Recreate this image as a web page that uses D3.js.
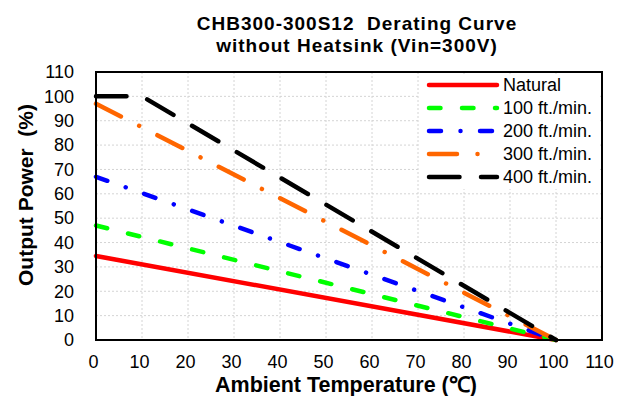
<!DOCTYPE html>
<html>
<head>
<meta charset="utf-8">
<script src="https://cdn.jsdelivr.net/npm/d3@7"></script>
<style>
  body { margin: 0; background: #fff; }
  text { font-family: "Liberation Sans", Arial, sans-serif; fill: #000; white-space: pre; }
  .title { font-weight: bold; font-size: 19px; letter-spacing: 1px; }
  .axis-title { font-weight: bold; font-size: 21px; }
  .legend-label { font-size: 18px; }
</style>
</head>
<body>
<svg id="chart" width="624" height="396"></svg>
<script>
// Data
var titleLines = ["CHB300-300S12  Derating Curve", "without Heatsink (Vin=300V)"];
var xTicks = [0, 10, 20, 30, 40, 50, 60, 70, 80, 90, 100, 110];
var yTicks = [0, 10, 20, 30, 40, 50, 60, 70, 80, 90, 100, 110];
var seriesNames = ["Natural", "100 ft./min.", "200 ft./min.", "300 ft./min.", "400 ft./min."];
var naturalPts = [[0, 34.5], [100, 0]];
var lfm100Pts = [[0, 47], [100, 0]];
var lfm200Pts = [[0, 67], [100, 0]];
var lfm300Pts = [[0, 97], [100, 0]];
var lfm400Pts = [[0, 100], [10, 100], [100, 0]];
var seriesPts = [naturalPts, lfm100Pts, lfm200Pts, lfm300Pts, lfm400Pts];

// Styles
var colors = ["#ff0000", "#00ff00", "#0000ff", "#ff6600", "#000000"];
var dashes = [null, "11.5,21.5", "12,19.5,0.01,19.5", "28,20.5,0.01,20.5", "30.5,21.5"];

var margin = {top: 72, right: 22, bottom: 56, left: 96};
var svg = d3.select("#chart");
var W = 624, H = 396;
var width = W - margin.left - margin.right;
var height = H - margin.top - margin.bottom;

var x = d3.scaleLinear().domain([0, 110]).range([margin.left, margin.left + width]);
var y = d3.scaleLinear().domain([0, 110]).range([margin.top + height, margin.top]);

// Title
svg.selectAll(".title").data(titleLines).enter().append("text")
    .attr("class", "title")
    .attr("x", 357)
    .attr("y", function(d, i) { return 30 + i * 22; })
    .attr("text-anchor", "middle")
    .text(function(d) { return d; });

// Gridlines
var grid = svg.append("g").attr("stroke", "#d4d4d4").attr("stroke-width", 1).attr("stroke-dasharray", "2,2");
grid.selectAll(".gx").data(xTicks.slice(1, -1)).enter().append("line")
    .attr("x1", function(d) { return x(d); }).attr("x2", function(d) { return x(d); })
    .attr("y1", y(110)).attr("y2", y(0));
grid.selectAll(".gy").data(yTicks.slice(1, -1)).enter().append("line")
    .attr("y1", function(d) { return y(d); }).attr("y2", function(d) { return y(d); })
    .attr("x1", x(0)).attr("x2", x(110));

// Axes (labels only, Excel style)
var xAxis = d3.axisBottom(x).tickValues(xTicks).tickSize(0).tickPadding(15);
var gx = svg.append("g").attr("transform", "translate(-3," + y(0) + ")").call(xAxis);
gx.select(".domain").remove();
gx.selectAll("text").style("font-size", "18px").style("font-family", "Liberation Sans, Arial, sans-serif");

var yAxis = d3.axisLeft(y).tickValues(yTicks).tickSize(0).tickPadding(22);
var gy = svg.append("g").attr("transform", "translate(" + x(0) + ",0)").call(yAxis);
gy.select(".domain").remove();
gy.selectAll("text").style("font-size", "18px").style("font-family", "Liberation Sans, Arial, sans-serif");

// Lines
var line = d3.line().x(function(d) { return x(d[0]); }).y(function(d) { return y(d[1]); });
svg.selectAll(".series").data(seriesPts).enter().append("path")
    .attr("class", "series")
    .attr("d", function(d) { return line(d); })
    .attr("fill", "none")
    .attr("stroke", function(d, i) { return colors[i]; })
    .attr("stroke-width", 4.5)
    .attr("stroke-linecap", "round")
    .attr("stroke-dasharray", function(d, i) { return dashes[i]; });

// Plot border
svg.append("rect")
    .attr("x", x(0)).attr("y", y(110))
    .attr("width", x(110) - x(0)).attr("height", y(0) - y(110))
    .attr("fill", "none").attr("stroke", "#000").attr("stroke-width", 2);

// Legend
var legend = svg.append("g").attr("transform", "translate(420,74)");
legend.append("rect").attr("width", 180).attr("height", 115).attr("fill", "#fff");
var items = legend.selectAll(".item").data(seriesNames).enter().append("g")
    .attr("transform", function(d, i) { return "translate(0," + (11 + i * 23) + ")"; });
items.append("line")
    .attr("x1", 9).attr("x2", 77).attr("y1", 0).attr("y2", 0)
    .attr("stroke", function(d, i) { return colors[i]; })
    .attr("stroke-width", 4.5)
    .attr("stroke-linecap", "round")
    .attr("stroke-dasharray", function(d, i) { return dashes[i]; });
items.append("text")
    .attr("class", "legend-label")
    .attr("x", 83).attr("y", 0).attr("dy", "0.35em")
    .text(function(d) { return d; });

// Axis titles
svg.append("text").attr("class", "axis-title")
    .style("font-size", "21.5px")
    .attr("x", 346).attr("y", 392)
    .attr("text-anchor", "middle")
    .text("Ambient Temperature (℃)");
svg.append("text").attr("class", "axis-title")
    .attr("transform", "translate(33,195) rotate(-90)")
    .attr("text-anchor", "middle")
    .text("Output Power  (%)");
</script>
</body>
</html>
